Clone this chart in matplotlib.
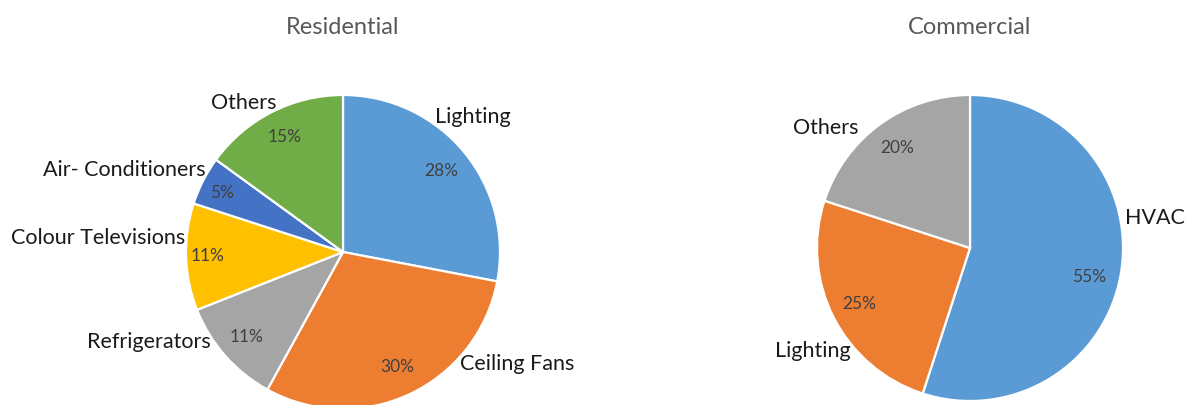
import numpy as np
import matplotlib
matplotlib.use("Agg")
import matplotlib.pyplot as plt

plt.rcParams['font.family'] = ['Lato', 'DejaVu Sans']

# data
res_labels = ['Lighting', 'Ceiling Fans', 'Refrigerators', 'Colour Televisions',
              'Air- Conditioners', 'Others']
res_values = [28, 30, 11, 11, 5, 15]
res_colors = ['#5B9BD5', '#ED7D31', '#A5A5A5', '#FFC000', '#4472C4', '#70AD47']

com_labels = ['HVAC', 'Lighting', 'Others']
com_values = [55, 25, 20]
com_colors = ['#5B9BD5', '#ED7D31', '#A5A5A5']

# label nudges (degrees, radius) to mimic the excel placement
res_shift = [16, 21, -7, -7, -4, -3]
res_rad = [1.04, 1.03, 1.02, 1.01, 1.02, 1.04]
com_shift = [20, 14, 7]
com_rad = [1.03, 1.03, 1.07]
# same for the percentages inside the slices
res_pshift = [0, 0, 0, 0, 1, 0]
res_prad = [0.81, 0.81, 0.82, 0.86, 0.86, 0.82]
com_pshift = [-4.5, 0, 0]
com_prad = [0.80, 0.81, 0.81]


def place(t, w, sh, r):
    ang = np.deg2rad((w.theta1 + w.theta2) / 2 + sh)
    t.set_position((r * np.cos(ang), r * np.sin(ang)))
    return ang


def draw_pie(ax, values, labels, colors, shifts, rads, pshifts, prads):
    wedges, texts, autotexts = ax.pie(
        values, labels=labels, colors=colors, startangle=90, counterclock=False,
        autopct='%1.0f%%', pctdistance=0.81, labeldistance=1.05,
        wedgeprops=dict(edgecolor='white', linewidth=1.6),
        textprops=dict(fontsize=15.5, color='#1a1a1a'))
    for w, t, sh, r in zip(wedges, texts, shifts, rads):
        ang = place(t, w, sh, r)
        t.set_ha('left' if np.cos(ang) > 0 else 'right')
        t.set_va('center')
    for w, a, sh, r in zip(wedges, autotexts, pshifts, prads):
        place(a, w, sh, r)
        a.set_fontsize(12.5)
        a.set_color('#404040')
    ax.set_xlim(-1, 1)
    ax.set_ylim(-1, 1)
    ax.set_aspect('equal')
    ax.axis('off')
    return wedges


fig = plt.figure(figsize=(11.88, 4.05), dpi=100)
ax1 = fig.add_axes([186 / 1188, -4 / 405, 314 / 1188, 314 / 405])
ax2 = fig.add_axes([817 / 1188, 4 / 405, 306 / 1188, 306 / 405])

draw_pie(ax1, res_values, res_labels, res_colors, res_shift, res_rad, res_pshift, res_prad)
draw_pie(ax2, com_values, com_labels, com_colors, com_shift, com_rad, com_pshift, com_prad)

fig.text(343 / 1188, 1 - 27 / 405, 'Residential', ha='center', va='center',
         fontsize=17, color='#595959')
fig.text(970 / 1188, 1 - 27 / 405, 'Commercial', ha='center', va='center',
         fontsize=17, color='#595959')

fig.savefig('out.png', dpi=100)
